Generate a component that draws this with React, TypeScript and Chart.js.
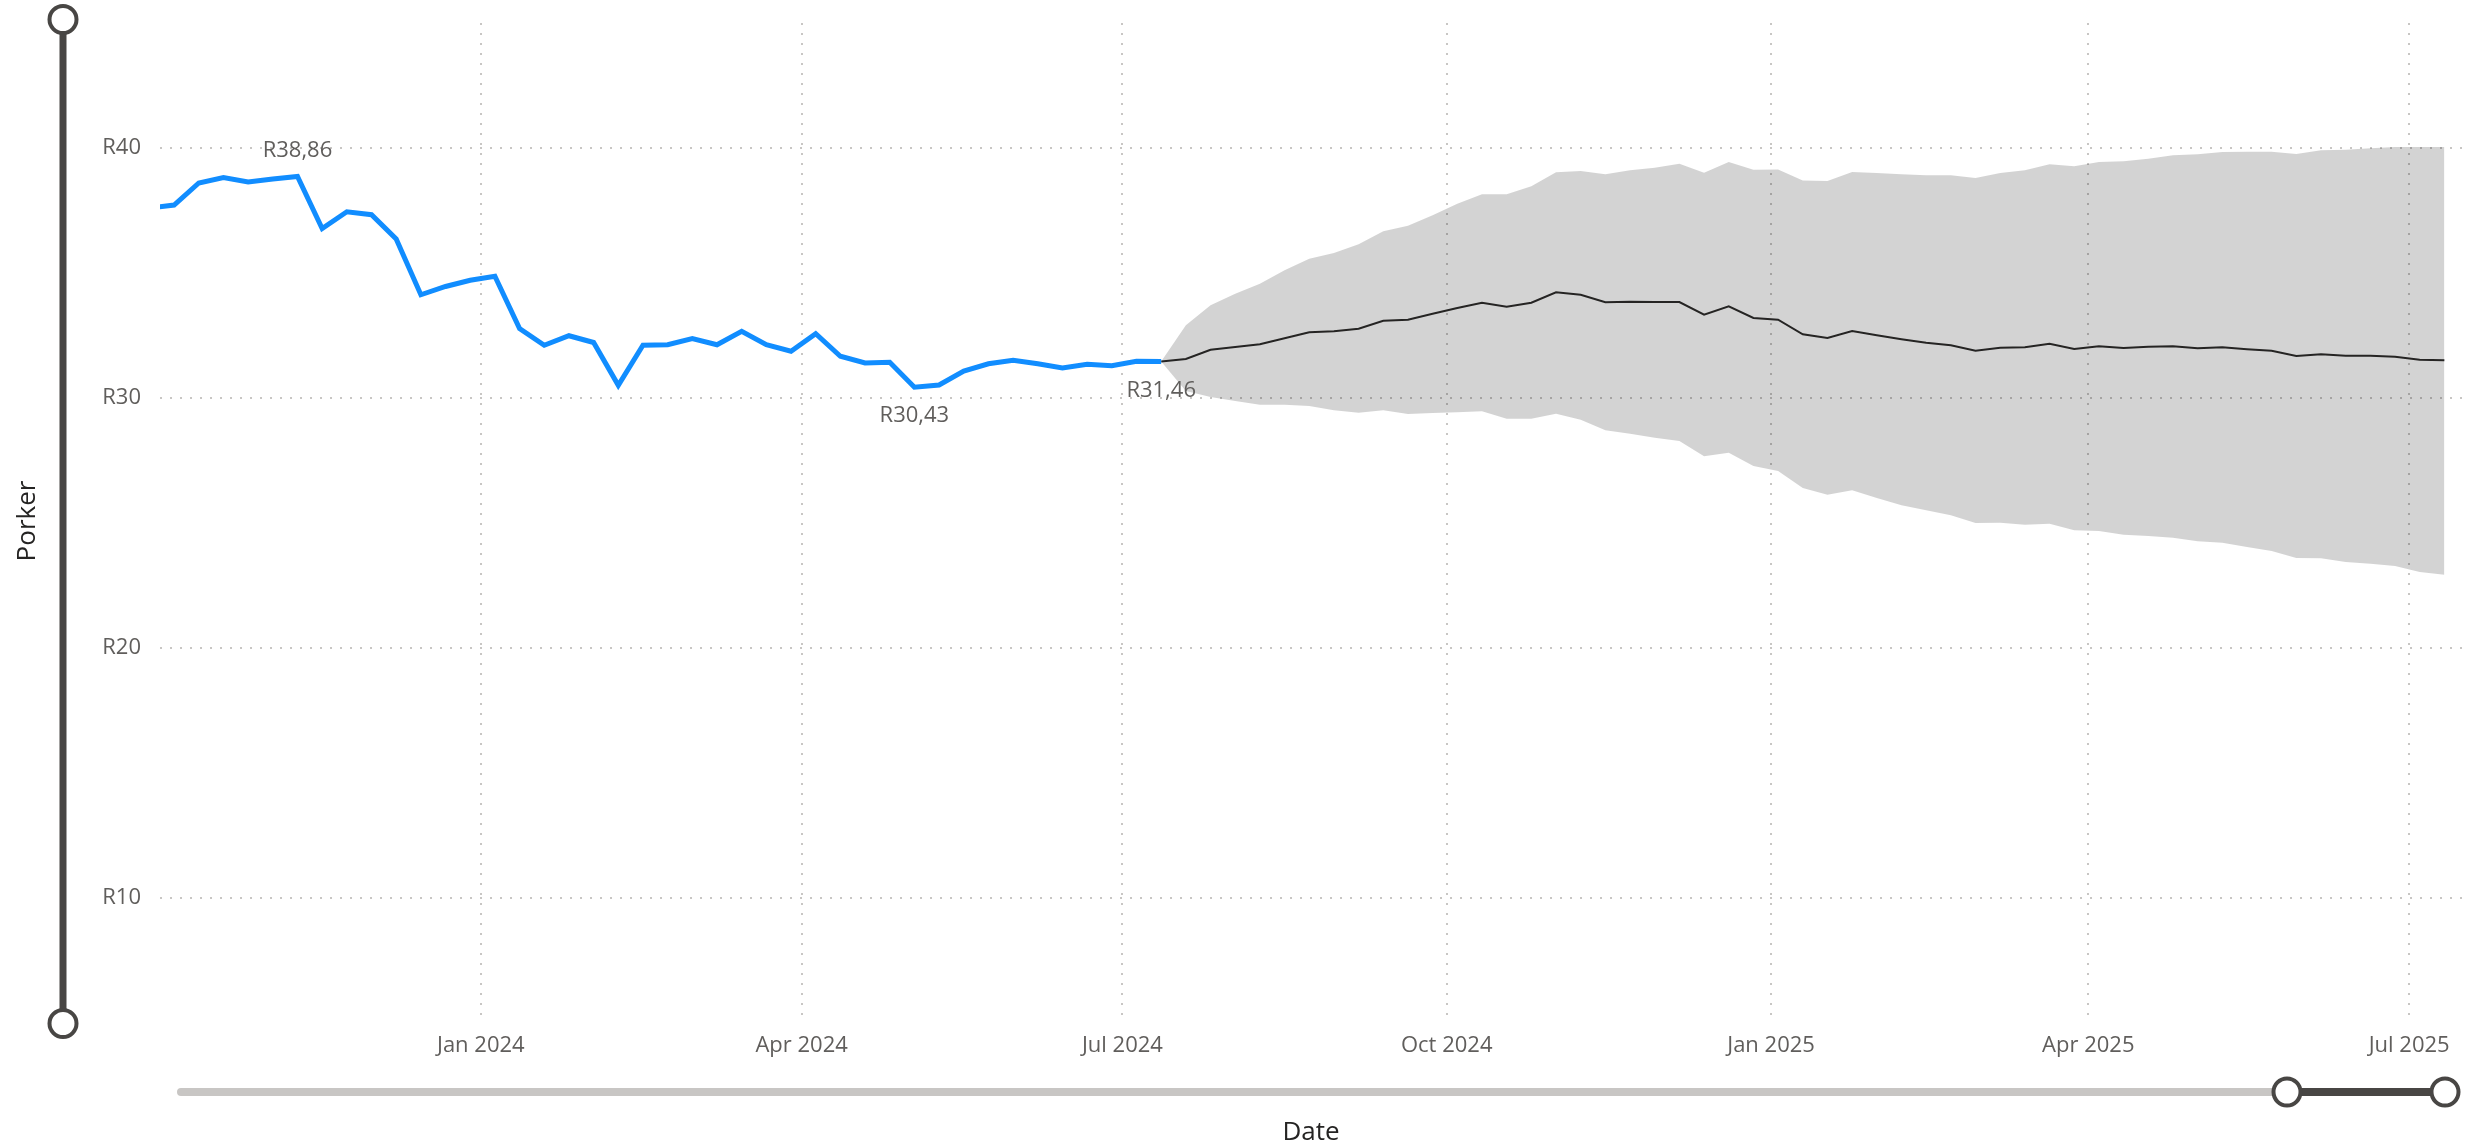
import React, { useEffect, useRef } from "react";
import { Chart, registerables } from "chart.js";

Chart.register(...registerables);

// ---------------- data ----------------
// Weekly observations (the first one lies just left of the visible range)
const HISTORY_START = "2023-09-29";
const HISTORY_VALUES = [
  37.6, 37.72, 38.6, 38.82, 38.64, 38.76, 38.86, 36.78, 37.45, 37.33,
  36.36, 34.13, 34.46, 34.71, 34.87, 32.78, 32.11, 32.49, 32.22, 30.51,
  32.11, 32.13, 32.38, 32.13, 32.67, 32.13, 31.87, 32.57, 31.67, 31.4,
  31.43, 30.43, 30.52, 31.08, 31.37, 31.51, 31.37, 31.2, 31.35, 31.29,
  31.47, 31.46,
];

// Weekly forecast, starting at the last observation
const FORECAST_START = "2024-07-12";
const FORECAST_VALUES = [
  31.46, 31.56, 31.93, 32.04, 32.15, 32.39, 32.63, 32.67, 32.77, 33.09,
  33.13, 33.37, 33.6, 33.81, 33.65, 33.81, 34.23, 34.13, 33.83, 33.85,
  33.84, 33.84, 33.33, 33.67, 33.2, 33.13, 32.55, 32.4, 32.68, 32.51,
  32.35, 32.21, 32.11, 31.89, 32.01, 32.03, 32.17, 31.96, 32.07, 32.0,
  32.05, 32.07, 31.99, 32.03, 31.95, 31.89, 31.68, 31.75, 31.69, 31.69,
  31.65, 31.53, 31.51,
];
const FORECAST_UPPER = [
  31.46, 32.91, 33.71, 34.17, 34.57, 35.11, 35.57, 35.8, 36.15, 36.67,
  36.89, 37.31, 37.77, 38.15, 38.15, 38.47, 39.03, 39.08, 38.95, 39.11,
  39.21, 39.37, 39.01, 39.44, 39.13, 39.14, 38.7, 38.68, 39.04, 39.0,
  38.95, 38.91, 38.91, 38.8, 39.0, 39.11, 39.35, 39.27, 39.44, 39.47,
  39.57, 39.71, 39.75, 39.84, 39.85, 39.85, 39.76, 39.91, 39.93, 39.99,
  40.04, 40.04, 40.04,
];
const FORECAST_LOWER = [
  31.46, 30.28, 30.04, 29.88, 29.73, 29.73, 29.68, 29.51, 29.41, 29.51,
  29.36, 29.4, 29.43, 29.47, 29.17, 29.17, 29.37, 29.13, 28.71, 28.57,
  28.41, 28.28, 27.67, 27.81, 27.28, 27.08, 26.4, 26.13, 26.31, 26.0,
  25.71, 25.51, 25.31, 25.0, 25.01, 24.93, 24.97, 24.71, 24.68, 24.53,
  24.48, 24.41, 24.27, 24.21, 24.04, 23.88, 23.6, 23.59, 23.44, 23.37,
  23.28, 23.04, 22.93,
];

const X_RANGE = ["2023-10-02", "2025-07-16"];
const X_TICK_DATES = [
  "2024-01-01", "2024-04-01", "2024-07-01", "2024-10-01",
  "2025-01-01", "2025-04-01", "2025-07-01",
];
const X_TICK_LABELS = [
  "Jan 2024", "Apr 2024", "Jul 2024", "Oct 2024",
  "Jan 2025", "Apr 2025", "Jul 2025",
];
const Y_RANGE = [5, 45];
const Y_TICKS = [10, 20, 30, 40];

const Y_TITLE = "Porker";
const X_TITLE = "Date";

// ---------------- styling ----------------
const WIDTH = 2490;
const HEIGHT = 1145;
const FONT = '"Open Sans", "Noto Sans", sans-serif';
const Y_AXIS_WIDTH = 160;
const X_AXIS_HEIGHT = 122;
const GRID_COLOR = "#C8C6C4";
const LABEL_COLOR = "#605E5C";
const TITLE_COLOR = "#252423";
const SLIDER_DARK = "#484644";
const SLIDER_LIGHT = "#C8C6C4";

const DAY_MS = 86400000;
const ms = (d: string) => Date.parse(d + "T00:00:00Z");
const weekly = (start: string, n: number) =>
  Array.from({ length: n }, (_, i) => ms(start) + i * 7 * DAY_MS);
const rand = (v: number) => "R" + v.toFixed(2).replace(".", ",");

const histX = weekly(HISTORY_START, HISTORY_VALUES.length);
const fcX = weekly(FORECAST_START, FORECAST_VALUES.length);

const pts = (xs: number[], ys: number[]) => xs.map((x, i) => ({ x, y: ys[i] }));

const dataLabelPlugin = {
  id: "dataLabels",
  afterDatasetsDraw(chart: any) {
    const meta = chart.getDatasetMeta(0);
    const vals = HISTORY_VALUES;
    let iMax = 0;
    let iMin = 0;
    vals.forEach((v, i) => {
      if (v > vals[iMax]) iMax = i;
      if (v < vals[iMin]) iMin = i;
    });
    const iLast = vals.length - 1;
    const ctx = chart.ctx;
    ctx.save();
    ctx.font = `22px ${FONT}`;
    ctx.fillStyle = LABEL_COLOR;
    ctx.textAlign = "center";
    ctx.textBaseline = "alphabetic";
    const draw = (i: number, dy: number) => {
      const p = meta.data[i];
      ctx.fillText(rand(vals[i]), p.x, p.y + dy);
    };
    draw(iMax, -20);
    draw(iMin, 35);
    draw(iLast, 35);
    ctx.restore();
  },
};

const decorPlugin = {
  id: "decor",
  afterDraw(chart: any) {
    const { ctx, chartArea: a } = chart;
    ctx.save();
    const thumb = (x: number, y: number) => {
      ctx.beginPath();
      ctx.arc(x, y, 13.5, 0, Math.PI * 2);
      ctx.fillStyle = "#ffffff";
      ctx.fill();
      ctx.lineWidth = 4;
      ctx.strokeStyle = SLIDER_DARK;
      ctx.stroke();
    };
    // vertical (value) slider
    const vx = 63;
    const vTop = a.top - 3.5;
    const vBot = a.bottom + 0.5;
    ctx.strokeStyle = SLIDER_DARK;
    ctx.lineWidth = 7;
    ctx.beginPath();
    ctx.moveTo(vx, vTop);
    ctx.lineTo(vx, vBot);
    ctx.stroke();
    thumb(vx, vTop);
    thumb(vx, vBot);

    // horizontal (date) slider
    const hy = a.bottom + 69;
    const hx0 = a.left + 21;
    const hx1 = a.right - 175;
    const hx2 = a.right - 17;
    ctx.lineCap = "round";
    ctx.lineWidth = 8;
    ctx.strokeStyle = SLIDER_LIGHT;
    ctx.beginPath();
    ctx.moveTo(hx0, hy);
    ctx.lineTo(hx1, hy);
    ctx.stroke();
    ctx.lineCap = "butt";
    ctx.strokeStyle = SLIDER_DARK;
    ctx.beginPath();
    ctx.moveTo(hx1, hy);
    ctx.lineTo(hx2, hy);
    ctx.stroke();
    thumb(hx1, hy);
    thumb(hx2, hy);

    // axis titles
    ctx.fillStyle = TITLE_COLOR;
    ctx.font = `26px ${FONT}`;
    ctx.textAlign = "center";
    ctx.textBaseline = "alphabetic";
    ctx.fillText(X_TITLE, (a.left + a.right) / 2, HEIGHT - 5);
    ctx.save();
    ctx.translate(35, (a.top + a.bottom) / 2 - 2);
    ctx.rotate(-Math.PI / 2);
    ctx.fillText(Y_TITLE, 0, 0);
    ctx.restore();
    ctx.restore();
  },
};

export default function App() {
  const ref = useRef<HTMLCanvasElement>(null);

  useEffect(() => {
    let chart: any = null;
    let cancelled = false;
    const build = () => {
      if (cancelled || !ref.current) return;
      chart = new Chart(ref.current, {
        type: "line",
        data: {
          datasets: [
            {
              label: "Porker",
              data: pts(histX, HISTORY_VALUES),
              borderColor: "#118DFF",
              borderWidth: 5,
              pointRadius: 0,
              fill: false,
              order: 0,
            },
            {
              label: "Forecast",
              data: pts(fcX, FORECAST_VALUES),
              borderColor: "#252423",
              borderWidth: 2,
              pointRadius: 0,
              fill: false,
              order: 1,
            },
            {
              label: "Upper bound",
              data: pts(fcX, FORECAST_UPPER),
              borderWidth: 0,
              borderColor: "rgba(0,0,0,0)",
              backgroundColor: "rgba(0,0,0,0.172)",
              pointRadius: 0,
              fill: "+1",
              order: 2,
            },
            {
              label: "Lower bound",
              data: pts(fcX, FORECAST_LOWER),
              borderWidth: 0,
              borderColor: "rgba(0,0,0,0)",
              pointRadius: 0,
              fill: false,
              order: 3,
            },
          ],
        },
        options: {
          responsive: false,
          animation: false,
          devicePixelRatio: 1,
          events: [],
          layout: { padding: { left: 0, top: 23, right: 28, bottom: 0 } },
          elements: { line: { tension: 0 }, point: { radius: 0 } },
          plugins: {
            legend: { display: false },
            tooltip: { enabled: false },
            title: { display: false },
          },
          scales: {
            x: {
              type: "linear",
              min: ms(X_RANGE[0]),
              max: ms(X_RANGE[1]),
              afterBuildTicks: (s: any) => {
                s.ticks = X_TICK_DATES.map((d) => ({ value: ms(d) }));
              },
              afterFit: (s: any) => {
                s.height = X_AXIS_HEIGHT;
                s.paddingLeft = 0;
                s.paddingRight = 0;
              },
              ticks: {
                autoSkip: false,
                maxRotation: 0,
                minRotation: 0,
                padding: 10,
                color: LABEL_COLOR,
                font: { family: FONT, size: 22 },
                callback: (_v: any, i: number) => X_TICK_LABELS[i],
              },
              grid: { color: GRID_COLOR, lineWidth: 2, drawTicks: false },
              border: { display: false, dash: [2, 8] },
            },
            y: {
              type: "linear",
              min: Y_RANGE[0],
              max: Y_RANGE[1],
              afterBuildTicks: (s: any) => {
                s.ticks = Y_TICKS.map((v) => ({ value: v }));
              },
              afterFit: (s: any) => {
                s.width = Y_AXIS_WIDTH;
                s.paddingTop = 0;
                s.paddingBottom = 0;
              },
              ticks: {
                padding: 19,
                color: LABEL_COLOR,
                font: { family: FONT, size: 22 },
                callback: (v: any) => "R" + v,
              },
              grid: { color: GRID_COLOR, lineWidth: 2, drawTicks: false },
              border: { display: false, dash: [2, 8] },
            },
          },
        },
        plugins: [dataLabelPlugin, decorPlugin],
      } as any);
    };
    const fonts: any = (document as any).fonts;
    const ready = fonts && fonts.load
      ? Promise.all([
          fonts.load(`22px ${FONT}`),
          fonts.load(`26px ${FONT}`),
        ]).catch(() => undefined)
      : Promise.resolve();
    ready.then(build);
    return () => {
      cancelled = true;
      if (chart) chart.destroy();
    };
  }, []);

  return (
    <div
      style={{
        position: "fixed",
        left: 0,
        top: 0,
        width: WIDTH,
        height: HEIGHT,
        background: "#ffffff",
      }}
    >
      <canvas
        ref={ref}
        width={WIDTH}
        height={HEIGHT}
        style={{ display: "block", width: WIDTH, height: HEIGHT }}
      />
    </div>
  );
}
